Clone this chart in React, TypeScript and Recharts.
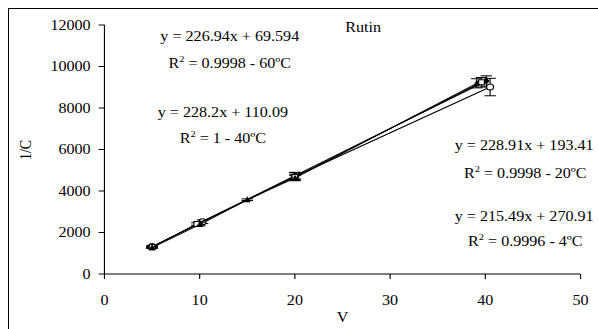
import React from 'react';
import { ScatterChart, Scatter, XAxis, YAxis, ErrorBar } from 'recharts';

// V (x) values for each temperature series
const vol60 = [5, 10, 15, 20, 39.1];
const vol40 = [5, 9.7, 20, 39.6];
const vol20 = [5, 10, 20, 40.1];
const vol4 = [5, 10.3, 20, 40.5];

// 1/C values
const inv60 = [1270, 2380, 3580, 4620, 9190];
const inv40 = [1290, 2410, 4680, 9240];
const inv20 = [1300, 2450, 4740, 9300];
const inv4 = [1320, 2520, 4700, 9010];

// error bar half-heights
const err60 = [40, 60, 40, 120, 220];
const err40 = [40, 60, 130, 230];
const err20 = [40, 80, 150, 250];
const err4 = [50, 90, 200, 420];

const xTicks = [0, 10, 20, 30, 40, 50];
const yTicks = [0, 2000, 4000, 6000, 8000, 10000, 12000];

const FONT = '"Liberation Serif", "Times New Roman", serif';
const STRETCH = 1.15;

const toRows = (xs: number[], ys: number[], es: number[]) =>
  xs.map((x, i) => ({ x, y: ys[i], e: es[i] }));

const Circle = (p: any) => <circle cx={p.cx} cy={p.cy} r={3} fill="#fff" stroke="#000" strokeWidth={1} />;
const Square = (p: any) => <rect x={p.cx - 2.5} y={p.cy - 2.5} width={5} height={5} fill="#fff" stroke="#000" strokeWidth={1} />;
const Diamond = (p: any) => (
  <path d={`M${p.cx},${p.cy - 3.5}L${p.cx + 3},${p.cy}L${p.cx},${p.cy + 3.5}L${p.cx - 3},${p.cy}Z`} fill="#000" />
);
const Triangle = (p: any) => (
  <path d={`M${p.cx},${p.cy - 3.5}L${p.cx + 3},${p.cy + 2.5}L${p.cx - 3},${p.cy + 2.5}Z`} fill="#000" />
);

function Eq({ x, y, children }: { x: number; y: number; children: React.ReactNode }) {
  return (
    <text x={x} y={y} dy="0.35em" textAnchor="middle" fontFamily={FONT} fontSize={14} fill="#000">
      {children}
    </text>
  );
}

function R2({ x, y, rest }: { x: number; y: number; rest: string }) {
  return (
    <Eq x={x} y={y}>
      R<tspan dy={-6} fontSize={9}>2</tspan><tspan dy={6}>{rest}</tspan>
    </Eq>
  );
}

export default function App() {
  const line = { stroke: '#000', strokeWidth: 1 };
  const tick = { fontFamily: FONT, fontSize: 14, fill: '#000' };
  return (
    <div style={{ position: 'fixed', left: 8, top: 8, width: 600, height: 330, border: '1px solid #000', overflow: 'hidden', background: '#fff' }}>
      <div style={{ position: 'absolute', left: 0, top: 0, width: 513, height: 320, transform: `scaleX(${STRETCH})`, transformOrigin: '0 0' }}>
        <ScatterChart width={513} height={320} margin={{ top: 16, right: 16, bottom: 0, left: 0 }}>
          <XAxis
            type="number"
            dataKey="x"
            domain={[0, 50]}
            ticks={xTicks}
            tick={tick}
            tickSize={5}
            tickMargin={16}
            height={55}
            stroke="#000"
          />
          <YAxis
            type="number"
            dataKey="y"
            domain={[0, 12000]}
            ticks={yTicks}
            tick={tick}
            tickSize={5}
            tickMargin={7}
            width={83}
            stroke="#000"
          />
          <Scatter data={toRows(vol4, inv4, err4)} line={line} shape={Circle} isAnimationActive={false}>
            <ErrorBar dataKey="e" direction="y" width={5} stroke="#000" strokeWidth={1} isAnimationActive={false} />
          </Scatter>
          <Scatter data={toRows(vol20, inv20, err20)} line={line} shape={Diamond} isAnimationActive={false}>
            <ErrorBar dataKey="e" direction="y" width={5} stroke="#000" strokeWidth={1} isAnimationActive={false} />
          </Scatter>
          <Scatter data={toRows(vol40, inv40, err40)} line={line} shape={Square} isAnimationActive={false}>
            <ErrorBar dataKey="e" direction="y" width={5} stroke="#000" strokeWidth={1} isAnimationActive={false} />
          </Scatter>
          <Scatter data={toRows(vol60, inv60, err60)} line={line} shape={Triangle} isAnimationActive={false}>
            <ErrorBar dataKey="e" direction="y" width={5} stroke="#000" strokeWidth={1} isAnimationActive={false} />
          </Scatter>
        </ScatterChart>
        <svg width={513} height={320} style={{ position: 'absolute', left: 0, top: 0, pointerEvents: 'none' }}>
          <Eq x={308} y={18}>Rutin</Eq>
          <Eq x={192} y={27}>y = 226.94x + 69.594</Eq>
          <R2 x={192} y={54} rest=" = 0.9998 - 60ºC" />
          <Eq x={186} y={103}>y = 228.2x + 110.09</Eq>
          <R2 x={186} y={129} rest=" = 1 - 40ºC" />
          <Eq x={448} y={136}>y = 228.91x + 193.41</Eq>
          <R2 x={449} y={164} rest=" = 0.9998 - 20ºC" />
          <Eq x={448} y={207}>y = 215.49x + 270.91</Eq>
          <R2 x={449} y={232} rest=" = 0.9996 - 4ºC" />
          <text x={14} y={141} dy="0.35em" textAnchor="middle" transform="rotate(-90 14 141)" fontFamily={FONT} fontSize={14} fill="#000">1/C</text>
          <Eq x={290} y={308}>V</Eq>
        </svg>
      </div>
    </div>
  );
}
